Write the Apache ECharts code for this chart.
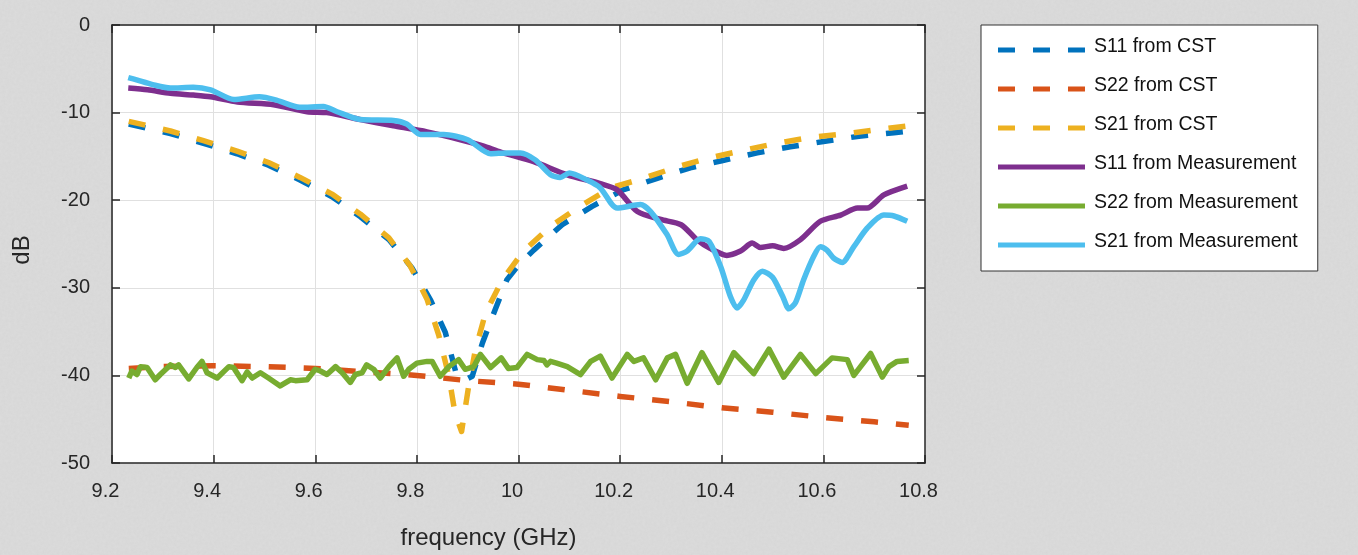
<!DOCTYPE html>
<html>
<head>
<meta charset="utf-8">
<script src="https://cdn.jsdelivr.net/npm/echarts@6/dist/echarts.min.js"></script>
<style>
html,body{margin:0;padding:0;}
body{
  background-color:#dcdcdc;
  background-image:url("data:image/svg+xml;utf8,<svg xmlns='http://www.w3.org/2000/svg' width='300' height='300'><filter id='n'><feTurbulence type='fractalNoise' baseFrequency='0.35' numOctaves='2' stitchTiles='stitch'/><feColorMatrix type='matrix' values='0 0 0 0 0.5  0 0 0 0 0.5  0 0 0 0 0.5  0 0 0 0.18 0'/></filter><rect width='300' height='300' filter='url(%23n)'/></svg>");
}
#chart{width:1358px;height:555px;}
</style>
</head>
<body>
<div id="chart"></div>
<script>
// ---- data ----
const seriesNames = ['S11 from CST','S22 from CST','S21 from CST','S11 from Measurement','S22 from Measurement','S21 from Measurement'];

const s11CstFreq = [9.233,9.315,9.38,9.446,9.508,9.57,9.633,9.689,9.745,9.79,9.827,9.856,9.876,9.892,9.909,9.929,9.954,9.977,10.0,10.03,10.086,10.145,10.207,10.273,10.338,10.4,10.47,10.535,10.6,10.67,10.739,10.768];
const s11CstDb   = [-11.3,-12.4,-13.5,-14.7,-16.0,-17.7,-19.6,-21.9,-24.5,-27.7,-31.4,-35.1,-39.5,-40.6,-40.1,-36.3,-32.5,-29.1,-27.4,-25.7,-22.8,-20.7,-18.8,-17.5,-16.3,-15.5,-14.6,-13.9,-13.3,-12.7,-12.3,-12.1];

const s22CstFreq = [9.233,9.3,9.4,9.5,9.6,9.7,9.8,9.9,10.0,10.1,10.2,10.3,10.4,10.5,10.6,10.7,10.768];
const s22CstDb   = [-39.2,-39.0,-38.9,-39.0,-39.2,-39.6,-40.0,-40.6,-41.0,-41.7,-42.4,-43.0,-43.7,-44.2,-44.8,-45.3,-45.7];

const s21CstFreq = [9.233,9.315,9.38,9.446,9.508,9.57,9.633,9.689,9.745,9.787,9.82,9.843,9.863,9.875,9.888,9.902,9.915,9.935,9.968,10.01,10.063,10.118,10.181,10.246,10.312,10.374,10.443,10.509,10.578,10.647,10.712,10.768];
const s21CstDb   = [-11.0,-12.1,-13.2,-14.4,-15.7,-17.4,-19.3,-21.6,-24.3,-27.5,-31.3,-35.4,-40.1,-44.3,-46.4,-41.2,-37.1,-32.9,-29.1,-25.8,-23.0,-20.8,-18.6,-17.5,-16.2,-15.2,-14.3,-13.5,-12.8,-12.4,-11.9,-11.5];

const s11MeasFreq = [9.232,9.27,9.315,9.36,9.394,9.447,9.518,9.584,9.623,9.689,9.754,9.82,9.886,9.93,9.965,10.03,10.096,10.161,10.194,10.234,10.28,10.32,10.351,10.377,10.41,10.437,10.46,10.476,10.5,10.522,10.555,10.594,10.634,10.667,10.686,10.719,10.765];
const s11MeasDb   = [-7.2,-7.4,-7.8,-8.0,-8.2,-8.8,-9.1,-9.9,-10.0,-10.8,-11.5,-12.2,-13.1,-13.8,-14.5,-15.6,-17.1,-18.1,-18.8,-21.3,-22.2,-22.8,-24.5,-25.5,-26.3,-25.8,-24.9,-25.4,-25.2,-25.5,-24.5,-22.4,-21.7,-20.9,-20.9,-19.4,-18.4];

const s22MeasFreq = [9.233,9.239,9.249,9.256,9.269,9.285,9.295,9.315,9.325,9.331,9.351,9.367,9.377,9.387,9.407,9.43,9.439,9.456,9.466,9.476,9.492,9.508,9.531,9.551,9.561,9.584,9.6,9.61,9.623,9.64,9.653,9.669,9.679,9.692,9.701,9.715,9.728,9.745,9.761,9.774,9.784,9.8,9.82,9.83,9.846,9.863,9.882,9.895,9.912,9.925,9.945,9.966,9.98,9.997,10.017,10.037,10.05,10.056,10.063,10.075,10.096,10.122,10.142,10.161,10.184,10.214,10.227,10.246,10.27,10.293,10.309,10.332,10.361,10.394,10.424,10.463,10.493,10.522,10.555,10.585,10.617,10.647,10.66,10.693,10.716,10.729,10.745,10.768];
const s22MeasDb   = [-40.3,-39.5,-39.9,-39.0,-39.1,-40.5,-39.9,-38.8,-39.1,-38.8,-40.4,-39.1,-38.4,-39.7,-40.3,-39.0,-39.1,-40.6,-39.6,-40.3,-39.7,-40.3,-41.2,-40.5,-40.6,-40.5,-39.3,-39.5,-39.9,-39.0,-39.7,-40.8,-39.9,-39.7,-38.8,-39.3,-40.3,-39.0,-38.0,-40.1,-39.3,-38.6,-38.4,-38.4,-40.1,-39.0,-38.2,-39.3,-39.0,-37.6,-39.1,-38.0,-39.2,-39.1,-37.6,-38.2,-38.3,-38.8,-38.4,-38.6,-39.0,-39.9,-38.4,-37.8,-40.3,-37.6,-38.4,-38.0,-40.5,-38.0,-37.6,-40.9,-37.4,-40.8,-37.4,-39.8,-37.0,-40.2,-37.6,-39.8,-38.0,-38.2,-40.0,-37.5,-40.2,-39.0,-38.4,-38.3];

const s21MeasFreq = [9.232,9.25,9.28,9.315,9.36,9.394,9.44,9.49,9.525,9.57,9.616,9.643,9.689,9.754,9.78,9.807,9.853,9.9,9.945,9.978,10.004,10.033,10.063,10.082,10.1,10.135,10.161,10.194,10.24,10.26,10.292,10.315,10.332,10.358,10.375,10.398,10.417,10.43,10.443,10.463,10.48,10.5,10.52,10.532,10.545,10.561,10.581,10.594,10.607,10.62,10.637,10.66,10.686,10.719,10.739,10.765];
const s21MeasDb   = [-6.0,-6.3,-6.8,-7.2,-7.1,-7.4,-8.5,-8.2,-8.6,-9.4,-9.3,-9.9,-10.8,-10.9,-11.3,-12.5,-12.5,-13.1,-14.7,-14.6,-14.6,-15.4,-17.1,-17.4,-16.9,-17.7,-18.6,-20.9,-20.5,-21.3,-23.9,-26.2,-25.8,-24.4,-24.7,-27.6,-31.0,-32.3,-31.4,-29.1,-28.1,-28.8,-31.0,-32.4,-31.7,-29.1,-26.4,-25.3,-25.7,-26.6,-27.1,-25.3,-23.2,-21.7,-21.8,-22.4];

const xTicks = {min: 9.2, max: 10.8, interval: 0.2};
const yTicks = {min: -50, max: 0, interval: 10};

// ---- chart ----
const FONT = '"Liberation Sans", Arial, Helvetica, sans-serif';
const AX = '#262626';
const pairs = (xs, ys) => xs.map((x, i) => [x, ys[i]]);
const colors = ['#0072BD','#D95319','#EDB120','#7E2F8E','#77AC30','#4DBEEE'];
const dataSets = [
  pairs(s11CstFreq, s11CstDb),
  pairs(s22CstFreq, s22CstDb),
  pairs(s21CstFreq, s21CstDb),
  pairs(s11MeasFreq, s11MeasDb),
  pairs(s22MeasFreq, s22MeasDb),
  pairs(s21MeasFreq, s21MeasDb)
];
// legend icons: 91x11 box (tiny corner marks fix the box), line sample 87x5 at the bottom
const iconFrame = 'M0,0h0.01v0.01h-0.01zM91,0h0.01v0.01h-0.01z';
const dashIcon = 'path://' + iconFrame + 'M0,6h17v5h-17zM35,6h17v5h-17zM70,6h17v5h-17z';
const solidIcon = 'path://' + iconFrame + 'M0,6h87v5h-87z';

const chart = echarts.init(document.getElementById('chart'), null, {renderer: 'canvas'});

const baseX = {
  type: 'value', min: xTicks.min, max: xTicks.max, interval: xTicks.interval,
  axisLine: {show: true, onZero: false, lineStyle: {color: AX, width: 1.5}},
  axisTick: {show: true, inside: true, length: 8, lineStyle: {color: AX, width: 1.5}},
};
const baseY = {
  type: 'value', min: yTicks.min, max: yTicks.max, interval: yTicks.interval,
  axisLine: {show: true, onZero: false, lineStyle: {color: AX, width: 1.5}},
  axisTick: {show: true, inside: true, length: 8, lineStyle: {color: AX, width: 1.5}},
};

const option = {
  backgroundColor: 'transparent',
  animation: false,
  grid: {
    left: 112, top: 25, right: 433, bottom: 92,
    show: true, backgroundColor: '#ffffff', borderWidth: 0,
    containLabel: false, outerBoundsMode: 'none'
  },
  legend: {
    orient: 'vertical', left: 981, top: 25,
    itemWidth: 91, itemHeight: 11, itemGap: 19,
    padding: [12, 20, 19, 17],
    backgroundColor: '#ffffff', borderColor: '#333333', borderWidth: 1, borderRadius: 0,
    selectedMode: false,
    textStyle: {fontFamily: FONT, fontSize: 19.5, color: '#111111', lineHeight: 20},
    data: seriesNames.map((n, i) => ({name: n, icon: i < 3 ? dashIcon : solidIcon}))
  },
  xAxis: [
    Object.assign({}, baseX, {
      position: 'bottom',
      splitLine: {show: true, lineStyle: {color: '#e0e0e0', width: 1}},
      axisLabel: {
        show: true, margin: 18, fontFamily: FONT, fontSize: 20, color: AX,
        padding: [0, 13, 0, 0],
        formatter: v => String(parseFloat(v.toFixed(1)))
      },
      name: 'frequency (GHz)', nameLocation: 'middle', nameGap: 63,
      nameTextStyle: {fontFamily: FONT, fontSize: 24, color: AX, padding: [0, 60, 0, 0]}
    }),
    Object.assign({}, baseX, {
      position: 'top',
      splitLine: {show: false},
      axisLabel: {show: false}
    })
  ],
  yAxis: [
    Object.assign({}, baseY, {
      position: 'left',
      splitLine: {show: true, lineStyle: {color: '#e0e0e0', width: 1}},
      axisLabel: {
        show: true, margin: 22, fontFamily: FONT, fontSize: 20, color: AX,
        padding: [0, 0, 10, 0]
      },
      name: 'dB', nameLocation: 'middle', nameGap: 78, nameRotate: 90,
      nameTextStyle: {fontFamily: FONT, fontSize: 24, color: AX, padding: [0, 12, 0, 0]}
    }),
    Object.assign({}, baseY, {
      position: 'right',
      splitLine: {show: false},
      axisLabel: {show: false}
    })
  ],
  series: seriesNames.map((name, i) => ({
    name: name,
    type: 'line',
    xAxisIndex: 0, yAxisIndex: 0,
    data: dataSets[i],
    symbol: 'none',
    smooth: (i === 3 || i === 5) ? 0.25 : false,
    clip: true,
    lineStyle: {
      color: colors[i], width: 5.5,
      type: i < 3 ? [17, 18] : 'solid',
      cap: 'butt', join: 'round'
    },
    itemStyle: {color: colors[i]},
    emphasis: {disabled: true}
  }))
};
chart.setOption(option);
</script>
</body>
</html>
